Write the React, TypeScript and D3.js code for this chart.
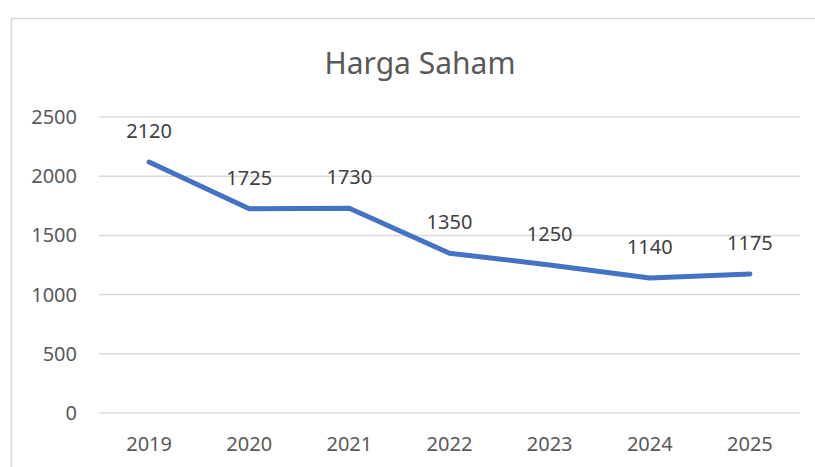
import React, { useEffect, useRef } from 'react';
import * as d3 from 'd3';

const years = ['2019', '2020', '2021', '2022', '2023', '2024', '2025'];
const prices = [2120, 1725, 1730, 1350, 1250, 1140, 1175];
const yTicks = [0, 500, 1000, 1500, 2000, 2500];

const App = () => {
    const chartRef = useRef<SVGSVGElement>(null);

    useEffect(() => {
        const width = 815;
        const height = 467;
        const svg = d3.select(chartRef.current);
        svg.selectAll('*').remove();

        const font = '"Noto Sans", "Open Sans", sans-serif';
        const textColor = '#595959';

        // chart area border
        svg.append('rect')
            .attr('x', 11.5)
            .attr('y', 18.5)
            .attr('width', 830)
            .attr('height', 480)
            .attr('fill', '#ffffff')
            .attr('stroke', '#d9d9d9')
            .attr('stroke-width', 1.5);

        const x = d3.scaleBand()
            .domain(years)
            .range([99, 800]);

        const y = d3.scaleLinear()
            .domain([0, 2500])
            .range([413, 117]);

        // gridlines
        svg.append('g')
            .selectAll('line')
            .data(yTicks)
            .enter()
            .append('line')
            .attr('x1', 99)
            .attr('x2', 800)
            .attr('y1', d => y(d))
            .attr('y2', d => y(d))
            .attr('stroke', '#d9d9d9')
            .attr('stroke-width', 1.5);

        // y labels
        svg.append('g')
            .selectAll('text')
            .data(yTicks)
            .enter()
            .append('text')
            .attr('x', 77)
            .attr('y', d => y(d))
            .attr('dy', '0.35em')
            .attr('text-anchor', 'end')
            .attr('font-family', font)
            .attr('font-size', 20)
            .attr('fill', textColor)
            .text(d => d);

        // x labels
        svg.append('g')
            .selectAll('text')
            .data(years)
            .enter()
            .append('text')
            .attr('x', d => x(d)! + x.bandwidth() / 2)
            .attr('y', 451)
            .attr('text-anchor', 'middle')
            .attr('font-family', font)
            .attr('font-size', 20)
            .attr('fill', textColor)
            .text(d => d);

        // title
        svg.append('text')
            .attr('x', 420)
            .attr('y', 74)
            .attr('text-anchor', 'middle')
            .attr('font-family', font)
            .attr('font-size', 30)
            .attr('fill', textColor)
            .text('Harga Saham');

        const line = d3.line<number>()
            .x((d, i) => x(years[i])! + x.bandwidth() / 2)
            .y(d => y(d));

        svg.append('path')
            .datum(prices)
            .attr('d', line)
            .attr('fill', 'none')
            .attr('stroke', '#4472C4')
            .attr('stroke-width', 5)
            .attr('stroke-linejoin', 'round')
            .attr('stroke-linecap', 'round');

        // data labels
        svg.append('g')
            .selectAll('text')
            .data(prices)
            .enter()
            .append('text')
            .attr('x', (d, i) => x(years[i])! + x.bandwidth() / 2)
            .attr('y', d => y(d) - 24)
            .attr('text-anchor', 'middle')
            .attr('font-family', font)
            .attr('font-size', 20)
            .attr('fill', '#404040')
            .text(d => d);

        svg.attr('width', width).attr('height', height);
    }, []);

    return (
        <svg ref={chartRef} style={{ position: 'absolute', left: 0, top: 0, display: 'block' }}></svg>
    );
};

export default App;
